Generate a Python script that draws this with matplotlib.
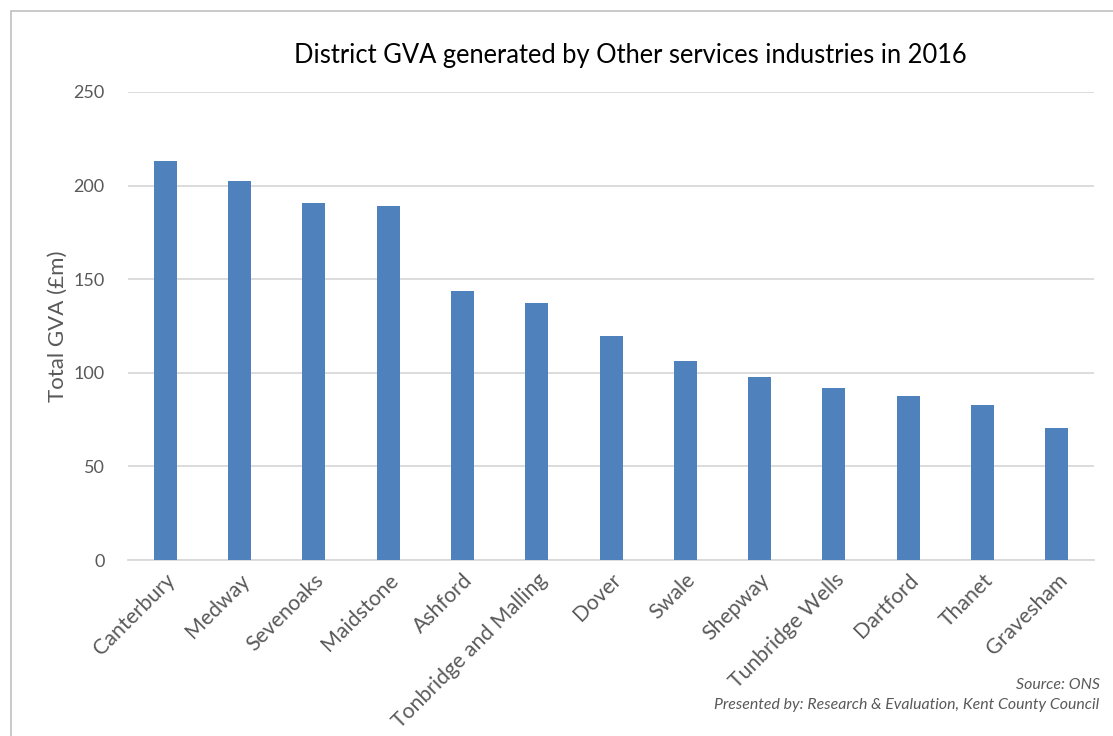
import matplotlib.pyplot as plt
from matplotlib.patches import Rectangle

# Valores de GVA por distrito (millones de libras), 2016
distritos = ["Canterbury", "Medway", "Sevenoaks", "Maidstone", "Ashford",
             "Tonbridge and Malling", "Dover", "Swale", "Shepway",
             "Tunbridge Wells", "Dartford", "Thanet", "Gravesham"]
gva = [212.9, 202.6, 190.5, 189.2, 143.9, 137.3, 119.5, 106.5, 97.9,
       92.0, 87.4, 82.8, 70.5]
yticks = [0, 50, 100, 150, 200, 250]

plt.rcParams['font.family'] = ['Lato', 'DejaVu Sans']
gris = "#595959"

fig = plt.figure(figsize=(11.13, 7.36), dpi=100)
ax = fig.add_axes([0.115, 0.239, 0.868, 0.636])

x = range(len(distritos))
ax.bar(x, gva, width=0.31, color="#4f81bd", zorder=3)

ax.set_xlim(-0.5, len(distritos) - 0.5)
ax.set_ylim(0, 250)
ax.set_yticks(yticks)
ax.set_yticklabels([str(v) for v in yticks], fontsize=13, color=gris)
ax.set_xticks(list(x))
ax.set_xticklabels(distritos, rotation=45, ha='right', rotation_mode='anchor',
                   fontsize=15.3, color=gris)
ax.tick_params(axis='both', length=0)
ax.tick_params(axis='y', pad=17)
ax.tick_params(axis='x', pad=7)

ax.grid(axis='y', color="#d9d9d9", linewidth=1.3, zorder=0)
for s in ["top", "right", "left"]:
    ax.spines[s].set_visible(False)
ax.spines["bottom"].set_color("#d9d9d9")
ax.spines["bottom"].set_linewidth(1.3)

ax.set_ylabel("Total GVA (£m)", fontsize=16, color=gris, labelpad=4)

fig.text(0.566, 0.925, "District GVA generated by Other services industries in 2016",
         ha='center', va='center', fontsize=18.4, color="black")

fig.text(0.988, 0.069, "Source: ONS", ha='right', va='center',
         fontsize=11.4, style='italic', color=gris)
fig.text(0.988, 0.042, "Presented by: Research & Evaluation, Kent County Council",
         ha='right', va='center', fontsize=11.4, style='italic', color=gris)

# Marco del gráfico
fig.patches.append(Rectangle((11 / 1113, -0.1), 1.2, 1.1 - 11 / 736,
                             transform=fig.transFigure, fill=False,
                             edgecolor="#c0c0c0", linewidth=1.2))

plt.savefig("out.png", dpi=100)
